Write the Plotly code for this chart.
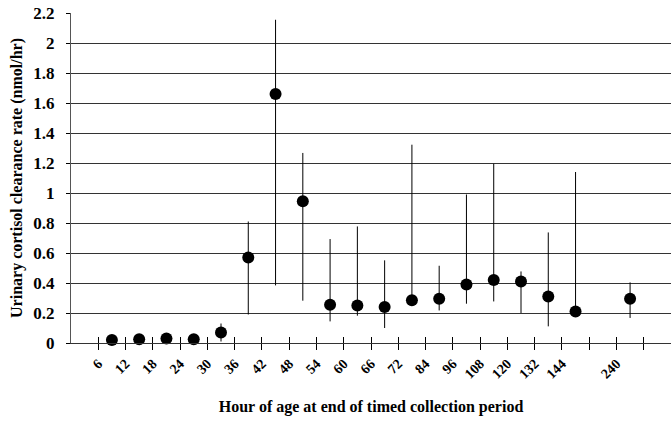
import numpy as np
import plotly.graph_objects as go

# Tick labels at category boundaries (hours of age)
boundary_labels = ["6", "12", "18", "24", "30", "36", "42", "48", "54", "60", "66",
                   "72", "84", "96", "108", "120", "132", "144", "", "240", ""]

# Values per collection slot (22 slots; None = no data)
means = [None, 0.02, 0.025, 0.03, 0.025, 0.07, 0.57, 1.66, 0.945, 0.255, 0.25, 0.24,
         0.285, 0.295, 0.39, 0.42, 0.41, 0.31, 0.21, None, 0.295, None]
upper = [None, 0.03, 0.035, 0.04, 0.035, 0.13, 0.81, 2.155, 1.267, 0.693, 0.777, 0.551,
         1.322, 0.515, 0.99, 1.195, 0.477, 0.737, 1.14, None, 0.404, None]
lower = [None, 0.01, 0.015, 0.02, 0.015, 0.01, 0.19, 0.384, 0.282, 0.144, 0.182, 0.10,
         0.285, 0.217, 0.262, 0.277, 0.20, 0.111, 0.20, None, 0.167, None]

y_ticks = [0, 0.2, 0.4, 0.6, 0.8, 1, 1.2, 1.4, 1.6, 1.8, 2, 2.2]

idx = [i for i, m in enumerate(means) if m is not None]
xs = np.array(idx) + 0.5
ys = np.array([means[i] for i in idx])
plus = np.array([upper[i] for i in idx]) - ys
minus = ys - np.array([lower[i] for i in idx])

font_fam = "Liberation Serif"

fig = go.Figure()
fig.add_trace(go.Scatter(
    x=xs, y=ys, mode="markers",
    marker=dict(color="black", size=12),
    error_y=dict(type="data", symmetric=False, array=plus, arrayminus=minus,
                 thickness=1, width=0, color="black"),
    showlegend=False, cliponaxis=False,
))
# invisible trace on overlay axis for inner ticks
fig.add_trace(go.Scatter(x=[0], y=[0], xaxis="x2", mode="markers",
                         marker=dict(opacity=0), showlegend=False, hoverinfo="skip"))

tickvals = list(range(1, len(boundary_labels) + 1))

fig.update_layout(
    width=671, height=421,
    margin=dict(l=71, r=0, t=13, b=78),
    plot_bgcolor="white", paper_bgcolor="white",
    font=dict(family=font_fam, color="black"),
    xaxis=dict(
        range=[0, len(means)], tickvals=tickvals, ticktext=boundary_labels,
        tickangle=-45, ticks="outside", ticklen=6, tickcolor="black", tickwidth=1,
        showgrid=False, zeroline=False, showline=True, linecolor="#333", linewidth=1,
        tickfont=dict(family=font_fam, size=14, color="black", weight="bold"),
        title=dict(text="<b>Hour of age at end of timed collection period</b>",
                   font=dict(family=font_fam, size=16), standoff=20),
    ),
    xaxis2=dict(
        range=[0, len(means)], tickvals=tickvals, overlaying="x", anchor="y", side="bottom",
        ticks="inside", ticklen=6, tickcolor="black", tickwidth=1,
        showticklabels=False, showgrid=False, zeroline=False, showline=False,
    ),
    yaxis=dict(
        range=[0, 2.2], tickvals=y_ticks, ticktext=[f"{v:g}" for v in y_ticks],
        ticks="outside", ticklen=4, tickcolor="black", ticklabelstandoff=8,
        showgrid=True, gridcolor="#333", gridwidth=1,
        zeroline=False, showline=True, linecolor="#555", linewidth=1,
        tickfont=dict(family=font_fam, size=17, color="black", weight="bold"),
        title=dict(text="<b>Urinary cortisol clearance rate (nmol/hr)</b>",
                   font=dict(family=font_fam, size=16), standoff=6),
    ),
)

fig.write_html("out.html")
